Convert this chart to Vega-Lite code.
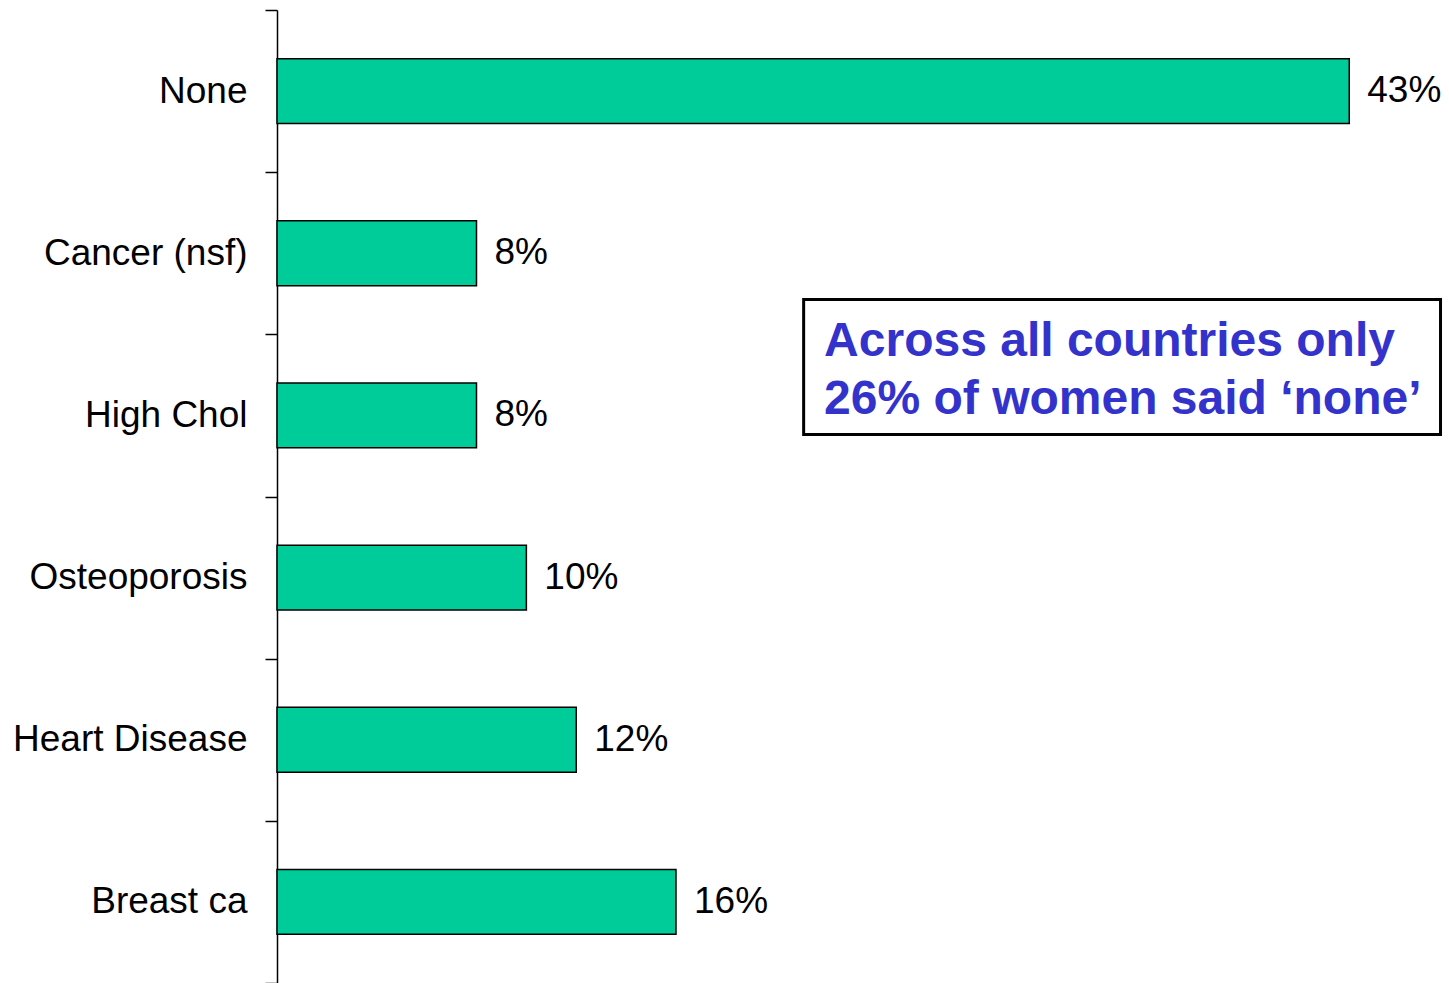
{
  "$schema": "https://vega.github.io/schema/vega-lite/v6.json",
  "autosize": "none",
  "padding": {"left": 277, "top": 10, "right": 0, "bottom": 0},
  "width": 1172,
  "height": 973,
  "background": "white",
  "config": {"view": {"stroke": null}, "font": "Liberation Sans"},
  "layer": [
    {
      "data": {"values": [
        {"category": "None", "value": 0.43},
        {"category": "Cancer (nsf)", "value": 0.08},
        {"category": "High Chol", "value": 0.08},
        {"category": "Osteoporosis", "value": 0.10},
        {"category": "Heart Disease", "value": 0.12},
        {"category": "Breast ca", "value": 0.16}
      ]},
      "encoding": {
        "y": {"field": "category", "type": "nominal", "sort": null,
          "scale": {"paddingInner": 0, "paddingOuter": 0},
          "axis": {"title": null, "tickBand": "extent", "domainColor": "black", "domainWidth": 1.5,
            "tickColor": "black", "tickWidth": 1.5, "tickSize": 12, "labelFontSize": 37, "labelLimit": 0,
            "labelFont": "Liberation Sans", "labelColor": "black", "labelPadding": 18, "grid": false}},
        "x": {"field": "value", "type": "quantitative", "scale": {"domain": [0, 0.47], "nice": false}, "axis": null}
      },
      "layer": [
        {"mark": {"type": "bar", "color": "#00CC99", "stroke": "black", "strokeWidth": 1.5, "height": {"band": 0.4}}},
        {"mark": {"type": "text", "align": "left", "baseline": "middle", "dx": 18, "fontSize": 37, "font": "Liberation Sans", "color": "black"},
         "encoding": {"text": {"field": "value", "type": "quantitative", "format": ".0%"}}}
      ]
    },
    {
      "layer": [
        {
          "data": {"values": [{"x1": 0.2112, "x2": 0.4666, "y1": 1.785, "y2": 2.618}]},
          "mark": {"type": "rect", "fill": "white", "stroke": "black", "strokeWidth": 3},
          "encoding": {
            "x": {"field": "x1", "type": "quantitative", "scale": {"domain": [0, 0.47], "nice": false}, "axis": null},
            "x2": {"field": "x2"},
            "y": {"field": "y1", "type": "quantitative", "scale": {"domain": [0, 6], "reverse": true, "nice": false, "zero": false}, "axis": null},
            "y2": {"field": "y2"}
          }
        },
        {
          "data": {"values": [
            {"line": "Across all countries only", "x": 0.2194, "y": 2.134},
            {"line": "26% of women said ‘none’", "x": 0.2194, "y": 2.491}
          ]},
          "mark": {"type": "text", "align": "left", "baseline": "alphabetic", "fontSize": 48, "fontWeight": "bold", "font": "Liberation Sans", "color": "#3333CC"},
          "encoding": {
            "x": {"field": "x", "type": "quantitative", "axis": null},
            "y": {"field": "y", "type": "quantitative", "axis": null},
            "text": {"field": "line"}
          }
        }
      ]
    }
  ],
  "resolve": {"scale": {"y": "independent"}, "axis": {"y": "independent"}}
}
